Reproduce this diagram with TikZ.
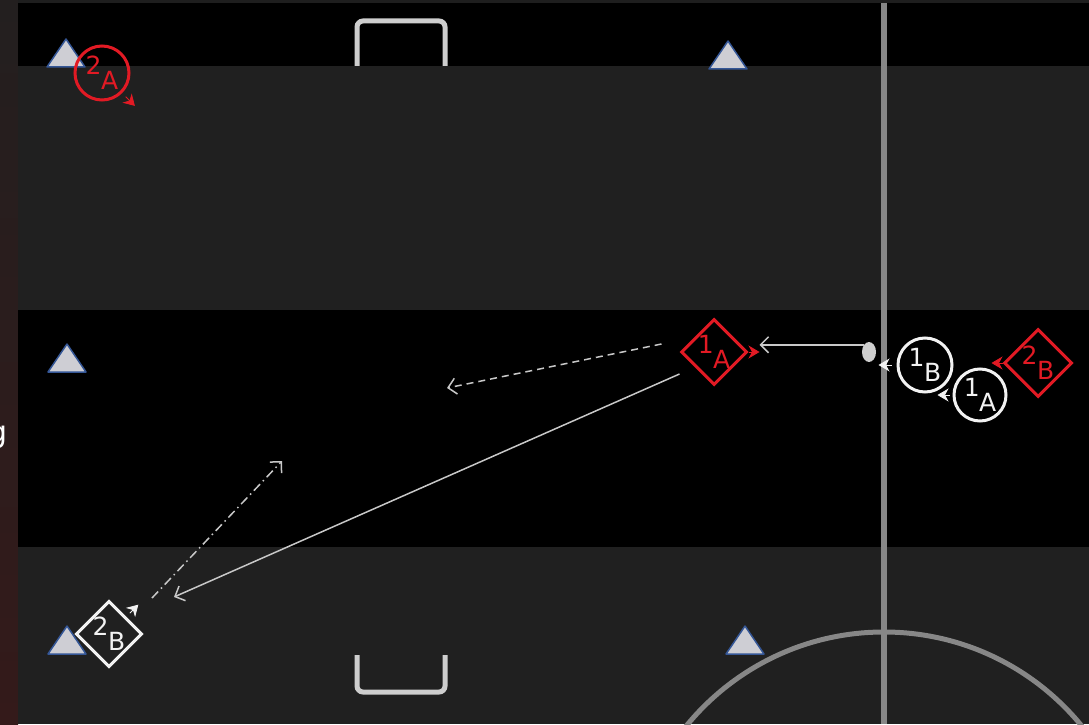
\documentclass[tikz,border=0pt]{standalone}
\usepackage{fontspec}
\setsansfont{DejaVu Sans}
\usetikzlibrary{shapes.geometric,arrows.meta,positioning,calc}
\definecolor{framegray}{RGB}{30,30,30}
\definecolor{stripgray}{RGB}{35,31,31}
\definecolor{stripred}{RGB}{52,26,26}
\definecolor{fieldgray}{RGB}{32,32,32}
\definecolor{linegray}{RGB}{135,135,135}
\definecolor{goalgray}{RGB}{206,206,206}
\definecolor{conefill}{RGB}{206,206,212}
\definecolor{coneblue}{RGB}{52,86,150}
\definecolor{teamred}{RGB}{226,26,36}
\definecolor{teamwhite}{RGB}{242,242,242}
\definecolor{passgray}{RGB}{200,200,200}
\newcommand{\plab}[2]{\raisebox{7.5pt}{#1}\kern-0.5pt\raisebox{-7.5pt}{#2}}

\begin{document}
\begin{tikzpicture}[x=1pt, y=1pt,
    pitchcone/.style={fill=conefill, draw=coneblue, line width=1.5pt, line join=round},
    circplayer/.style={circle, draw, line width=3pt, minimum size=54pt, inner sep=0pt,
      font=\fontsize{25}{25}\selectfont\sffamily},
    diamplayer/.style={diamond, aspect=1, draw, line width=3pt, minimum size=66pt, inner sep=0pt,
      font=\fontsize{25}{25}\selectfont\sffamily},
    facetip/.style={-{Stealth[length=11pt, width=13pt, inset=3.5pt]}, line width=0.8pt},
    passline/.style={passgray, line width=1.5pt, -{Straight Barb[length=8pt, width=16pt]}},
    runline/.style={passline, dash pattern=on 7pt off 5pt},
    dribbleline/.style={passline, dash pattern=on 9pt off 4pt on 1.5pt off 4pt}]
    \useasboundingbox (0,0) rectangle (1089,724);

    % Frame and bands
    \fill[framegray] (0,0) rectangle (1089,724);
    \shade[top color=stripgray, bottom color=stripred] (0,0) rectangle (18,724);
    \node (cutg) [anchor=base east, inner sep=0pt, text=white, font=\fontsize{30}{30}\selectfont\sffamily] at (8,282) {g};
    \fill[black] (18,658) rectangle (1089,721);
    \fill[fieldgray] (18,414) rectangle (1089,658);
    \fill[black] (18,177) rectangle (1089,414);
    \fill[fieldgray] (18,0) rectangle (1089,177);

    % Halfway line and centre circle
    \draw[linegray, line width=6pt] (884,0) -- (884,721);
    \begin{scope}
        \clip (18,0) rectangle (1089,721);
        \draw[linegray, line width=5pt] (884,-163) circle (255);
    \end{scope}

    % Goals
    \draw[goalgray, line width=5pt, rounded corners=6pt] (357,658) -- (357,703) -- (445,703) -- (445,658);
    \draw[goalgray, line width=5pt, rounded corners=6pt] (357,69) -- (357,32) -- (445,32) -- (445,69);

    % Cones
    \filldraw[pitchcone] (47,657) -- (85,657) -- (66,685) -- cycle;
    \filldraw[pitchcone] (709,655) -- (747,655) -- (728,683) -- cycle;
    \filldraw[pitchcone] (48,352) -- (86,352) -- (67,380) -- cycle;
    \filldraw[pitchcone] (48,70) -- (86,70) -- (67,98) -- cycle;
    \filldraw[pitchcone] (726,70) -- (764,70) -- (745,98) -- cycle;

    % Players and ball
    \node (twoA) [circplayer, teamred, text=teamred] at (102,651) {\plab{2}{A}};
    \node (oneA) [diamplayer, teamred, text=teamred] at (714,372) {\plab{1}{A}};
    \node (twoBr) [diamplayer, teamred, text=teamred, minimum size=68pt] at (1038,361) {\plab{2}{B}};
    \node (oneB) [circplayer, teamwhite, text=teamwhite] at (925,359) {\plab{1}{B}};
    \node (oneAw) [circplayer, teamwhite, text=teamwhite, minimum size=52pt] at (980,329) {\plab{1}{A}};
    \node (twoBw) [diamplayer, teamwhite, text=teamwhite] at (109,90) {\plab{2}{B}};
    \node (ball) [ellipse, fill=goalgray, minimum width=14pt, minimum height=20pt, inner sep=0pt] at (869,372) {};

    % Facing markers
    \draw[facetip, teamred] (twoA.-45) ++(-45:5) -- ++(-45:13);
    \draw[facetip, teamred] (oneA.east) -- ++(11,0);
    \draw[facetip, teamred] (twoBr.west) -- ++(-11,0);
    \draw[facetip, teamwhite] (oneB.west) ++(-5,0) -- ++(-13,0);
    \draw[facetip, teamwhite] (oneAw.west) ++(-3,0) -- ++(-12,0);
    \draw[facetip, teamwhite] (twoBw.45) ++(45:5) -- ++(45:12);

    % Passes and runs
    \coordinate (runA) at (447,336);
    \coordinate (recvB) at (174,127);
    \coordinate (runB) at (282,263);
    \draw[passline, shorten >=11pt] (ball.north west) -- (ball.north west -| oneA.east);
    \draw[runline] ([xshift=-18pt, yshift=8pt]oneA.west) -- (runA);
    \draw[passline] ([yshift=-22pt]oneA.west) -- (recvB);
    \draw[dribbleline] ([shift={(43pt,36pt)}]twoBw.center) -- (runB);
\end{tikzpicture}
\end{document}
